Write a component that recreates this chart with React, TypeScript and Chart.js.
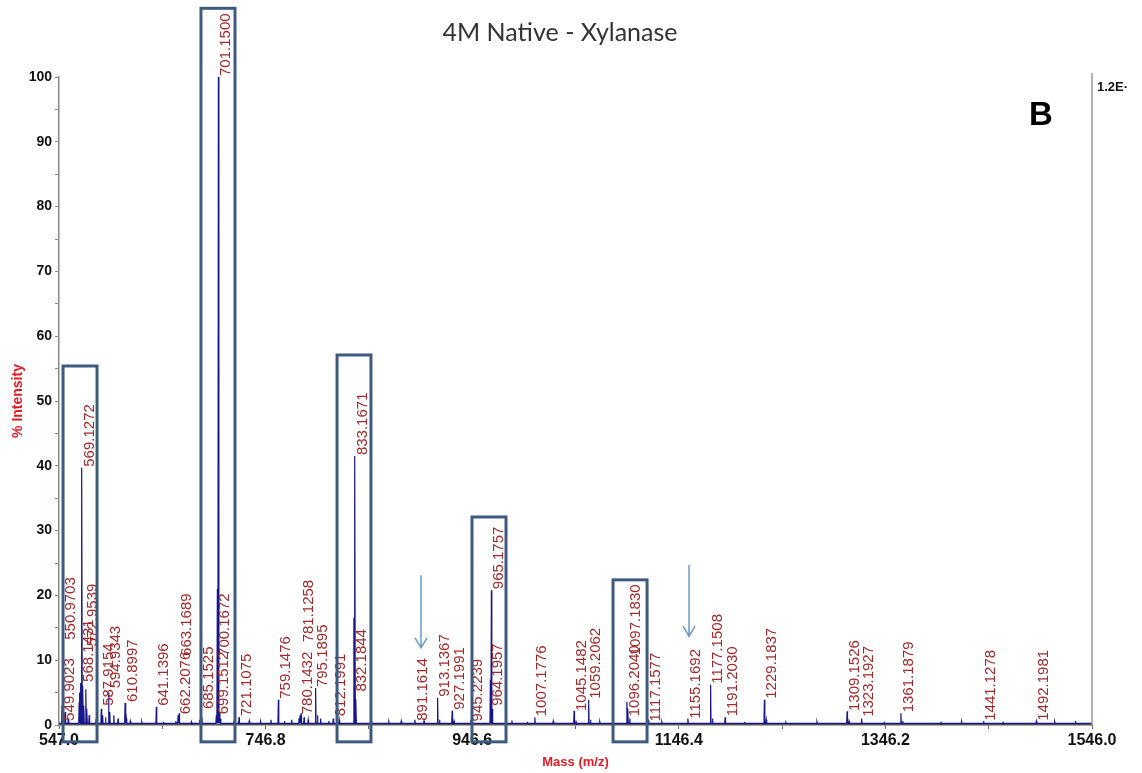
import React, { useEffect, useRef } from "react";
import { Chart, registerables } from "chart.js";

Chart.register(...registerables);

// ---- text ----
const chartTitle = "4M Native - Xylanase";
const panelTag = "B";
const rightAxisTag = "1.2E·";
const xTitle = "Mass (m/z)";
const yTitle = "% Intensity";

// ---- axes ----
const xMin = 547.0;
const xMax = 1546.0;
const xTickValues = [547.0, 646.9, 746.8, 846.7, 946.6, 1046.5, 1146.4, 1246.3, 1346.2, 1446.1, 1546.0];
const xTickLabels = ["547.0", "", "746.8", "", "946.6", "", "1146.4", "", "1346.2", "", "1546.0"];
const yMin = 0;
const yMax = 100;

// ---- labelled peaks (m/z, % intensity, level where the label starts) ----
const peakMz = [
  549.9023, 550.9703, 568.1431, 569.1272, 572.9539, 587.9154, 594.9343, 610.8997,
  641.1396, 662.2076, 663.1689, 685.1525, 699.1512, 700.1672, 701.15, 721.1075,
  759.1476, 780.1432, 781.1258, 795.1895, 812.1991, 832.1844, 833.1671, 891.1614,
  913.1367, 927.1991, 945.2239, 964.1957, 965.1757, 1007.1776, 1045.1482, 1059.2062,
  1096.204, 1097.183, 1117.1577, 1155.1692, 1177.1508, 1191.203, 1229.1837, 1309.1526,
  1323.1927, 1361.1879, 1441.1278, 1492.1981,
];
const peakIntensity = [
  3.0, 2.0, 6.5, 39.7, 5.5, 2.5, 5.0, 3.4,
  2.8, 1.5, 1.8, 1.2, 1.5, 21.0, 100.0, 1.2,
  3.9, 1.5, 1.8, 5.7, 1.0, 16.5, 41.5, 0.8,
  4.2, 2.2, 0.8, 7.0, 20.8, 1.2, 2.2, 3.9,
  3.6, 2.6, 0.8, 1.0, 6.2, 1.2, 3.9, 2.1,
  1.0, 1.8, 0.6, 0.6,
];
const labelLevel = [
  0.5, 13.0, 6.5, 39.7, 12.0, 2.8, 5.5, 3.4,
  2.8, 1.5, 10.5, 2.3, 1.5, 10.5, 100.0, 1.2,
  3.9, 1.5, 12.6, 5.7, 1.2, 5.0, 41.5, 0.5,
  4.2, 2.2, 0.4, 2.8, 20.8, 1.2, 2.0, 3.9,
  1.2, 10.6, 0.4, 0.8, 6.2, 1.2, 3.9, 2.0,
  1.1, 1.8, 0.5, 0.5,
];

// ---- smaller unlabelled peaks ----
const minorMz = [
  553.0, 556.0, 566.5, 567.2, 570.1, 571.1, 574.0, 576.2, 583.0, 589.2,
  592.0, 596.1, 600.0, 604.1, 612.1, 616.0, 627.0, 648.0, 660.0, 675.0,
  683.0, 702.1, 703.1, 716.0, 731.0, 742.0, 752.0, 765.0, 772.0, 779.0,
  784.0, 788.0, 797.0, 800.0, 808.0, 818.0, 834.2, 849.0, 866.0, 878.0,
  900.0, 915.0, 929.0, 966.2, 985.0, 1000.0, 1025.0, 1047.0, 1061.0, 1070.0,
  1099.0, 1130.0, 1179.0, 1210.0, 1231.0, 1250.0, 1280.0, 1311.0, 1345.0, 1363.0,
  1400.0, 1420.0, 1460.0, 1510.0, 1530.0,
];
const minorIntensity = [
  2.0, 1.0, 3.5, 5.0, 6.0, 3.0, 2.5, 1.5, 1.0, 1.5,
  1.2, 2.0, 1.5, 1.0, 1.0, 0.6, 0.5, 0.5, 0.6, 0.5,
  0.8, 2.0, 1.0, 0.6, 0.6, 0.5, 0.8, 0.6, 0.8, 1.0,
  1.2, 0.8, 1.5, 1.0, 0.6, 0.8, 4.0, 0.5, 0.5, 0.6,
  0.6, 0.8, 0.6, 2.5, 0.7, 0.5, 0.6, 0.5, 0.8, 0.5,
  1.0, 0.5, 1.0, 0.5, 0.8, 0.4, 0.5, 0.6, 0.4, 0.6,
  0.4, 0.5, 0.4, 0.5, 0.6,
];
const baselineLevel = 0.25;

// ---- highlight boxes (m/z range, % intensity range) ----
const boxFrom = [550.9, 684.3, 815.9, 946.4, 1082.8];
const boxTo = [583.8, 717.2, 848.7, 979.3, 1115.7];
const boxTop = [55.4, 110.6, 57.1, 32.1, 22.4];
const boxBottom = -2.6;

// ---- arrows (m/z, start level, tip level) ----
const arrowMz = [897.1, 1156.3];
const arrowFrom = [23.1, 24.7];
const arrowTo = [11.9, 13.7];

// build the profile: a narrow spike for each peak on a flat baseline
const allPeaks = [
  ...peakMz.map((m, i) => ({ m, h: peakIntensity[i] })),
  ...minorMz.map((m, i) => ({ m, h: minorIntensity[i] })),
];
const halfWidth = 0.4;
const spectrum: { x: number; y: number }[] = [
  { x: xMin, y: baselineLevel },
  { x: xMax, y: baselineLevel },
];
allPeaks.forEach(({ m, h }) => {
  spectrum.push({ x: m - halfWidth, y: baselineLevel });
  spectrum.push({ x: m, y: h });
  spectrum.push({ x: m + halfWidth, y: baselineLevel });
});
spectrum.sort((a, b) => a.x - b.x);

const FONT = "'Liberation Sans', Arial, sans-serif";

const annotations = {
  id: "spectrumAnnotations",
  afterDraw(chart: any) {
    const { ctx, chartArea, scales } = chart;
    const xs = scales.x;
    const ys = scales.y;
    ctx.save();

    // heading
    ctx.fillStyle = "#333333";
    ctx.font = `25px Lato, 'Open Sans', sans-serif`;
    ctx.textAlign = "center";
    ctx.textBaseline = "middle";
    ctx.fillText(chartTitle, 560, 33);

    // panel letter
    ctx.fillStyle = "#000000";
    ctx.font = `bold 33px ${FONT}`;
    ctx.fillText(panelTag, 1041, 116);

    // right axis
    ctx.strokeStyle = "#9a9a9a";
    ctx.lineWidth = 1.5;
    ctx.beginPath();
    ctx.moveTo(chartArea.right, chartArea.top - 4);
    ctx.lineTo(chartArea.right, chartArea.bottom);
    ctx.stroke();
    ctx.fillStyle = "#111111";
    ctx.font = `bold 13px ${FONT}`;
    ctx.textAlign = "left";
    ctx.fillText(rightAxisTag, chartArea.right + 5, chartArea.top + 10);

    // peak labels
    ctx.fillStyle = "#9e2a2b";
    ctx.font = `15px ${FONT}`;
    ctx.textAlign = "left";
    ctx.textBaseline = "top";
    peakMz.forEach((m, i) => {
      const px = xs.getPixelForValue(m);
      const py = ys.getPixelForValue(labelLevel[i]) - 1;
      ctx.save();
      ctx.translate(px, py);
      ctx.rotate(-Math.PI / 2);
      ctx.fillText(m.toFixed(4), 0, 0);
      ctx.restore();
    });

    // highlight boxes
    ctx.strokeStyle = "#3e5a7e";
    ctx.lineWidth = 3;
    boxFrom.forEach((from, i) => {
      const x0 = xs.getPixelForValue(from);
      const x1 = xs.getPixelForValue(boxTo[i]);
      const y0 = ys.getPixelForValue(boxTop[i]);
      const y1 = ys.getPixelForValue(boxBottom);
      ctx.strokeRect(x0, y0, x1 - x0, y1 - y0);
    });

    // arrows
    ctx.strokeStyle = "#6a9ac4";
    ctx.lineWidth = 1.5;
    arrowMz.forEach((m, i) => {
      const ax = xs.getPixelForValue(m);
      const yA = ys.getPixelForValue(arrowFrom[i]);
      const yB = ys.getPixelForValue(arrowTo[i]);
      ctx.beginPath();
      ctx.moveTo(ax, yA);
      ctx.lineTo(ax, yB);
      ctx.moveTo(ax - 6, yB - 10);
      ctx.lineTo(ax, yB);
      ctx.lineTo(ax + 6, yB - 10);
      ctx.stroke();
    });

    ctx.restore();
  },
};

export default function App() {
  const ref = useRef<HTMLCanvasElement>(null);

  useEffect(() => {
    if (!ref.current) return;
    const chart = new Chart(ref.current, {
      type: "line",
      data: {
        datasets: [
          {
            data: spectrum,
            borderColor: "#16168a",
            borderWidth: 1.2,
            pointRadius: 0,
            fill: false,
            tension: 0,
          },
        ],
      },
      options: {
        animation: false,
        responsive: false,
        devicePixelRatio: 1,
        layout: { padding: { left: 0, right: 50, top: 77, bottom: 0 } },
        plugins: {
          legend: { display: false },
          tooltip: { enabled: false },
          title: { display: false },
        },
        scales: {
          x: {
            type: "linear",
            min: xMin,
            max: xMax,
            afterFit: (s: any) => {
              s.height = 48;
            },
            afterBuildTicks: (axis: any) => {
              axis.ticks = xTickValues.map((v) => ({ value: v }));
            },
            ticks: {
              autoSkip: false,
              maxRotation: 0,
              padding: 2,
              color: "#111111",
              font: { family: FONT, size: 16, weight: "bold" },
              callback: (_v: any, index: number) => xTickLabels[index],
            },
            grid: {
              display: true,
              drawOnChartArea: false,
              drawTicks: true,
              tickLength: 4,
              color: "#666666",
            },
            border: { display: true, color: "#555555", width: 1.5 },
            title: {
              display: true,
              text: xTitle,
              color: "#e31b23",
              font: { family: FONT, size: 13, weight: "bold" },
              padding: { top: 0, bottom: 3 },
            },
          },
          y: {
            type: "linear",
            min: yMin,
            max: yMax,
            afterFit: (s: any) => {
              s.width = 59;
            },
            ticks: {
              stepSize: 5,
              autoSkip: false,
              padding: 3,
              color: "#111111",
              font: { family: FONT, size: 14, weight: "bold" },
              callback: (v: any) => (Number(v) % 10 === 0 ? String(v) : ""),
            },
            grid: {
              display: true,
              drawOnChartArea: false,
              drawTicks: true,
              tickLength: 4,
              color: "#888888",
            },
            border: { display: true, color: "#8a8a8a", width: 1.5 },
            title: {
              display: true,
              text: yTitle,
              color: "#e31b23",
              font: { family: FONT, size: 14, weight: "bold" },
              padding: { top: 10, bottom: 0 },
            },
          },
        },
      },
      plugins: [annotations],
    });
    return () => chart.destroy();
  }, []);

  return (
    <div style={{ position: "absolute", left: 0, top: 0, width: 1142, height: 773, background: "#ffffff" }}>
      <canvas ref={ref} width={1142} height={773} style={{ display: "block" }} />
    </div>
  );
}
